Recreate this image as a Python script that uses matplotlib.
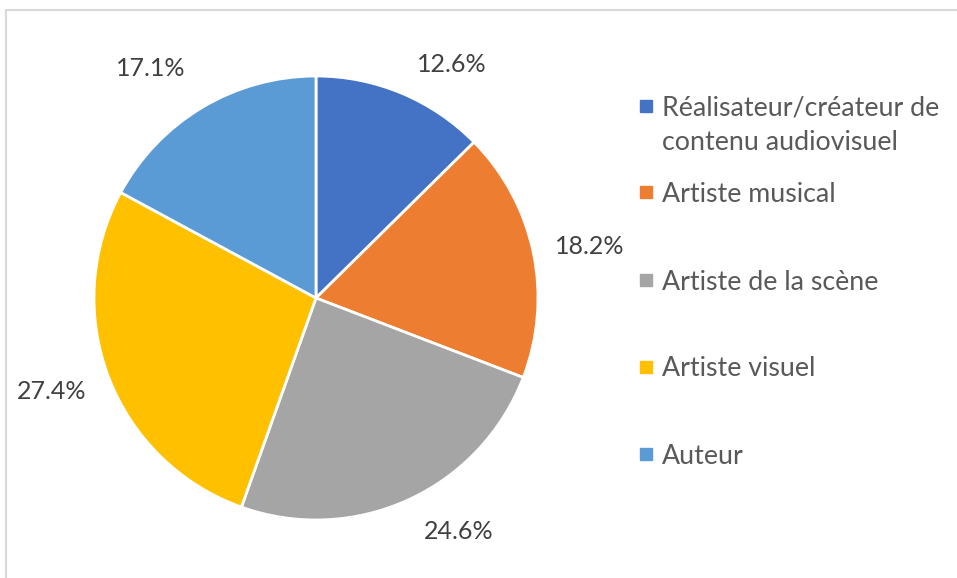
import matplotlib.pyplot as plt
from matplotlib.patches import Rectangle

categories = ['Réalisateur/créateur de\ncontenu audiovisuel', 'Artiste musical',
              'Artiste de la scène', 'Artiste visuel', 'Auteur']
shares = [12.6, 18.2, 24.6, 27.4, 17.1]
colors = ['#4472C4', '#ED7D31', '#A5A5A5', '#FFC000', '#5B9BD5']

W, H = 957, 578
fig = plt.figure(figsize=(W / 100, H / 100), dpi=100)
plt.rcParams['font.family'] = ['Lato', 'DejaVu Sans']

# light chart frame
fig.patches.append(Rectangle((6 / W, -0.05), 1.1, 1 - 10 / H + 0.05, transform=fig.transFigure,
                             fill=False, edgecolor='#D9D9D9', linewidth=1.5))

cx, cy, r = 316, 298, 222
ax = fig.add_axes([(cx - r) / W, (H - cy - r) / H, 2 * r / W, 2 * r / H])
wedges, _, autotexts = ax.pie(shares, colors=colors, startangle=90, counterclock=False,
                              autopct=lambda p: '{:.1f}%'.format(p), pctdistance=1.23,
                              wedgeprops=dict(edgecolor='white', linewidth=2),
                              textprops=dict(fontsize=18, color='#404040'))
ax.set_xlim(-1, 1)
ax.set_ylim(-1, 1)
ax.set_aspect('equal')

# Excel "best fit" label spots (in pie radius units)
label_pos = [(0.61, 1.054), (1.232, 0.234), (0.644, -1.052), (-1.189, -0.419), (-0.745, 1.032)]
for t, pos in zip(autotexts, label_pos):
    t.set_position(pos)
    t.set_clip_on(False)

# legend drawn to match the Excel layout
legend_y = [106, 192, 280, 367, 454]
line_gap = 35
for lab, col, y in zip(categories, colors, legend_y):
    fig.patches.append(Rectangle((640 / W, (H - y - 6) / H), 12 / W, 12 / H,
                                 transform=fig.transFigure, color=col))
    for i, line in enumerate(lab.split('\n')):
        fig.text(662 / W, (H - y - i * line_gap - 9.5) / H, line, fontsize=19.3,
                 color='#595959', va='baseline')

fig.savefig('out.png', dpi=100)
